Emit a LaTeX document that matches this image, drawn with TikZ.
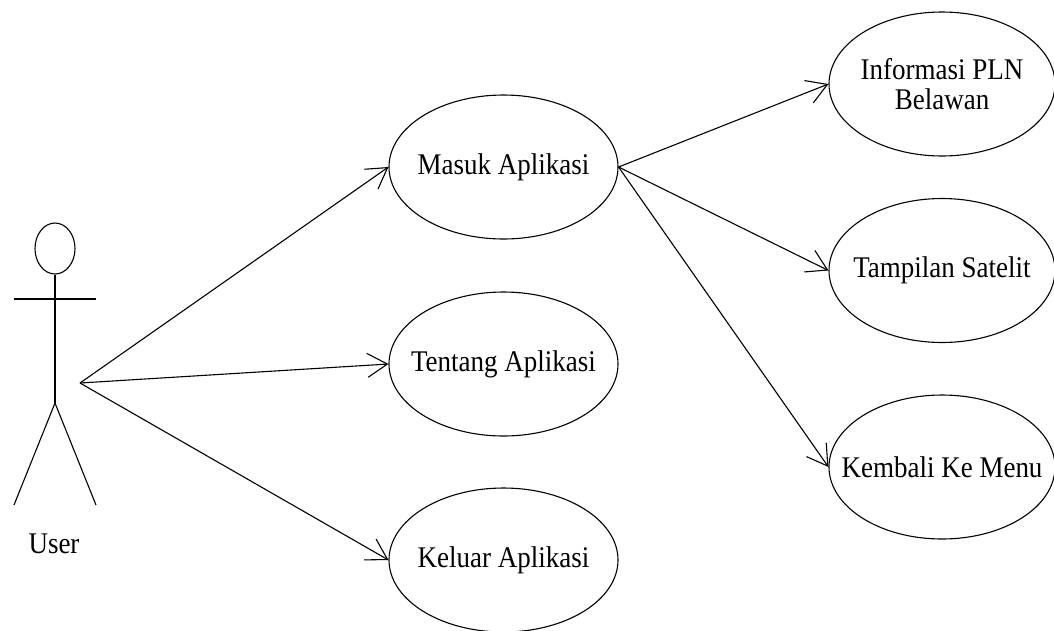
\documentclass[tikz,border=0pt]{standalone}
\usepackage{fontspec}
\setmainfont{Liberation Serif}[FakeStretch=0.9]
\usetikzlibrary{shapes.geometric,arrows.meta}
\begin{document}
\begin{tikzpicture}[x=1pt,y=-1pt,
  ucfont/.style={font=\fontsize{30}{30}\selectfont},
  usecase/.style={ellipse,draw,line width=1.1pt,minimum width=229pt,minimum height=144pt,inner sep=0pt},
  uctext/.style={label={[ucfont,align=center]center:#1}},
  actorline/.style={line width=1.1pt},
  assoc/.style={line width=1.1pt,-{Straight Barb[length=20pt,width=24pt,line width=1.1pt]}}
]
\useasboundingbox (0,0) rectangle (1054,630);
% actor
\node[ellipse,draw,line width=1.1pt,minimum width=40pt,minimum height=51pt,inner sep=0pt] (head) at (55,248.5) {};
\coordinate (hip) at (55,403);
\coordinate (armL) at (14,299);
\coordinate (armR) at (96,299);
\coordinate (legL) at (14,505);
\coordinate (legR) at (96,505);
\draw[actorline] (head.south) -- (hip);
\draw[actorline] (armL) -- (armR);
\draw[actorline] (legL) -- (hip) -- (legR);
\node[ucfont] (user) at (54,544) {User};
\coordinate (src) at (80,383);
% use cases
\node[usecase,uctext={Masuk Aplikasi}] (masuk) at (503.5,167) {};
\node[usecase,uctext={Tentang Aplikasi}] (tentang) at (503.5,364) {};
\node[usecase,uctext={Keluar Aplikasi}] (keluar) at (503.5,560) {};
\node[usecase,minimum width=226pt,uctext={Informasi PLN\\Belawan}] (info) at (942,84) {};
\node[usecase,minimum width=226pt,uctext={Tampilan Satelit}] (satelit) at (942,270.5) {};
\node[usecase,minimum width=226pt,uctext={Kembali Ke Menu}] (kembali) at (942,467) {};
% connectors
\draw[assoc] (src) -- (masuk.west);
\draw[assoc] (src) -- (tentang.west);
\draw[assoc] (src) -- (keluar.west);
\draw[assoc] (masuk.east) -- (info.west);
\draw[assoc] (masuk.east) -- (satelit.west);
\draw[assoc] (masuk.east) -- (kembali.west);
\end{tikzpicture}
\end{document}
